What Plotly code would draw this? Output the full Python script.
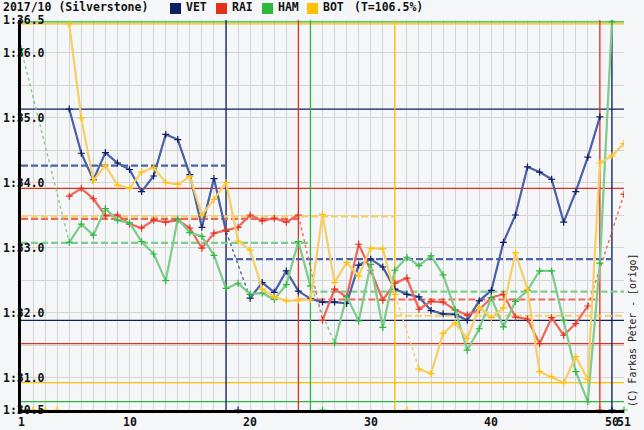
import plotly.graph_objects as go

# ---------------- data (lap times in seconds, 1:30.0 = 90.0) ----------------
laps = list(range(1, 52))
drivers = ["VET", "RAI", "HAM", "BOT"]

vet_times = [None, None, None, None,
             95.13, 94.45, 94.04, 94.46, 94.30, 94.20, 93.86, 94.10, 94.74, 94.66,
             94.12, 93.31, 94.06, 93.25, None,
             92.22, 92.46, 92.31, 92.64, 92.33, 92.21, 92.16, 92.16, 92.14, 92.73,
             92.82, 92.70, 92.36, 92.28, 92.24, 92.03, 91.98, 91.97, 91.88, 92.18,
             92.34, 93.08, 93.50, 94.24, 94.16, 94.05, 93.39, 93.86, 94.39, 95.01,
             None, None]
rai_times = [None, None, None, None,
             93.79, 93.91, 93.75, 93.49, 93.50, 93.36, 93.30, 93.42, 93.39, 93.42,
             93.30, 92.99, 93.22, 93.27, 93.31, 93.50, 93.41, 93.45, 93.39, 93.50,
             None,
             91.88, 92.36, 92.24, 93.05, 92.65, 92.19, 92.45, 92.53, 92.05, 92.17,
             92.16, 92.04, 91.96, 92.04, 92.23, 92.28, 91.93, 91.90, 91.52, 91.92,
             91.65, 91.83, 92.10, None, None, 93.82]
ham_times = [96.06, None, None, None,
             93.08, 93.36, 93.19, 93.60, 93.42, 93.38, 93.09, 92.90, 92.49, 93.44,
             93.23, 93.17, 92.88, 92.37, 92.45, 92.28, 92.30, 92.20, 92.43, 93.09,
             92.41, None,
             91.53, 92.25, 91.87, 92.74, 91.77, 92.65, 92.85, 92.72, 92.87, 92.58,
             92.04, 91.42, 91.75, 92.23, 91.78, 92.17, 92.34, 92.64, 92.64, 91.88,
             91.09, 90.63, 92.76, 96.47, None]
bot_times = [None, None, None, None,
             96.44, 94.99, 94.03, 94.26, 93.96, 93.91, 94.16, 94.23, 94.00, 93.97,
             94.09, 93.50, 93.74, 94.00, 93.10, 92.96, 92.36, 92.24, 92.18, 92.19,
             92.20, 93.51, 92.46, 92.77, 92.56, 92.99, 92.98, 92.28, None,
             91.13, 91.06, 91.68, 91.84, 91.60, 92.08, 91.92, 92.07, 92.92, 92.35,
             91.09, 91.01, 90.92, 91.32, 90.97, 94.30, 94.41, 94.60]

# laps shown only as markers on the bottom edge (off the scale)
vet_off = [19, 50]
rai_off = [49]
ham_off = [26, 51]
bot_off = [1, 2, 3, 4, 33]

# pit-stop laps (vertical lines)
vet_pits = [18, 50]
rai_pits = [24, 49]
ham_pits = [25]
bot_pits = [32]

# stint averages: (start lap, end lap, value)
vet_stints = [(1, 18, 94.26), (18, 50, 92.82)]
rai_stints = [(1, 24, 93.44), (24, 49, 92.20)]
ham_stints = [(1, 25, 93.07), (25, 51, 92.32)]
bot_stints = [(1, 32, 93.48), (32, 51, 91.95)]

x_tickvals = [1, 10, 20, 30, 40, 50, 51]
x_ticktext = ["1", "10", "20", "30", "40", "50", "51"]
y_tickvals = [96.5, 96.0, 95.0, 94.0, 93.0, 92.0, 91.0, 90.5]
y_ticktext = ["1:36.5", "1:36.0", "1:35.0", "1:34.0", "1:33.0", "1:32.0", "1:31.0", "1:30.5"]

title_text = "2017/10 (Silverstone)"
threshold_text = "(T=106.5%)"
credit_text = "(C) Farkas Péter - [origo]"

# ---------------- styling ----------------
base_colors = {"VET": "#0c1f5f", "RAI": "#e3301b", "HAM": "#2db83d", "BOT": "#ffc000"}
line_colors = {"VET": "#4b62a8", "RAI": "#f0675a", "HAM": "#7fcc8c", "BOT": "#f7cf68"}
series = {"VET": vet_times, "RAI": rai_times, "HAM": ham_times, "BOT": bot_times}
offs = {"VET": vet_off, "RAI": rai_off, "HAM": ham_off, "BOT": bot_off}
pits = {"VET": vet_pits, "RAI": rai_pits, "HAM": ham_pits, "BOT": bot_pits}
stints = {"VET": vet_stints, "RAI": rai_stints, "HAM": ham_stints, "BOT": bot_stints}

BG = "#f5f6f8"
FONT = "DejaVu Sans Mono"
X0, X1 = 1, 51
Y0, Y1 = 90.5, 96.5

W, H = 644, 430
ML, MR, MT, MB = 21, 20, 20, 20
PW, PH = W - ML - MR, H - MT - MB


def px(x):
    return (x - ML) / PW


def py(y):
    return (H - MB - y) / PH


fig = go.Figure()

# reference lines: slowest / fastest lap per driver (full width)
for d in drivers:
    vals = [v for v in series[d] if v is not None]
    for v in (max(vals), min(vals)):
        fig.add_trace(go.Scatter(x=[X0, X1], y=[v, v], mode="lines",
                                 line=dict(color=base_colors[d], width=1.3),
                                 hoverinfo="skip", showlegend=False))

# pit lap vertical lines
for d in drivers:
    for p in pits[d]:
        fig.add_trace(go.Scatter(x=[p, p], y=[Y0, Y1], mode="lines",
                                 line=dict(color=base_colors[d], width=1.3),
                                 hoverinfo="skip", showlegend=False))

# stint averages (dashed)
for d in drivers:
    for (a, b, v) in stints[d]:
        fig.add_trace(go.Scatter(x=[a, b], y=[v, v], mode="lines",
                                 line=dict(color=line_colors[d], width=2.2, dash="7px,3px"),
                                 hoverinfo="skip", showlegend=False))

# dotted connectors across missing laps
for d in drivers:
    fig.add_trace(go.Scatter(x=laps, y=series[d], mode="lines", connectgaps=True,
                             line=dict(color=line_colors[d], width=1.4, dash="dot"),
                             hoverinfo="skip", showlegend=False))

# solid lap-time lines with markers
for d in drivers:
    fig.add_trace(go.Scatter(x=laps, y=series[d], mode="lines+markers", connectgaps=False,
                             line=dict(color=line_colors[d], width=2.2),
                             marker=dict(symbol="cross-thin", size=5,
                                         line=dict(color=base_colors[d], width=1.2)),
                             name=d, showlegend=False))

# off-scale markers on the bottom edge
for d in drivers:
    fig.add_trace(go.Scatter(x=offs[d], y=[Y0] * len(offs[d]), mode="markers",
                             marker=dict(symbol="cross-thin", size=5,
                                         line=dict(color=base_colors[d], width=1.2)),
                             cliponaxis=False, hoverinfo="skip", showlegend=False))

annotations = []
shapes = []
label_font = dict(family=FONT, size=11.5, color="#111", weight="bold")

# y tick labels drawn over the axis
for v, t in zip(y_tickvals, y_ticktext):
    annotations.append(dict(x=px(2), xref="paper", y=v, yref="y", text=t,
                            showarrow=False, xanchor="left", yanchor="middle",
                            borderpad=0, font=label_font))

# x tick labels
for v, t in zip(x_tickvals, x_ticktext):
    annotations.append(dict(x=v, xref="x", y=py(422), yref="paper", text=t,
                            showarrow=False, xanchor="center", yanchor="middle",
                            borderpad=0, font=label_font))

# title
annotations.append(dict(x=px(2), xref="paper", y=py(7.5), yref="paper", text=title_text,
                        showarrow=False, xanchor="left", yanchor="middle",
                        borderpad=0, font=label_font))

# legend
leg_x = [170, 216, 262, 307]
for d, lx in zip(drivers, leg_x):
    shapes.append(dict(type="rect", xref="paper", yref="paper",
                       x0=px(lx), x1=px(lx + 11), y0=py(14), y1=py(3),
                       fillcolor=base_colors[d], line=dict(width=0)))
    annotations.append(dict(x=px(lx + 15), xref="paper", y=py(7.5), yref="paper", text=d,
                            showarrow=False, xanchor="left", yanchor="middle",
                            borderpad=0, font=label_font))
annotations.append(dict(x=px(353), xref="paper", y=py(7.5), yref="paper", text=threshold_text,
                        showarrow=False, xanchor="left", yanchor="middle",
                        borderpad=0, font=label_font))

# credit
annotations.append(dict(x=px(632), xref="paper", y=py(331), yref="paper", text=credit_text,
                        showarrow=False, textangle=-90, xanchor="center", yanchor="middle",
                        borderpad=0, font=dict(family=FONT, size=9.8, color="#222")))

fig.update_layout(
    width=W, height=H,
    margin=dict(l=ML, r=MR, t=MT, b=MB, pad=0, autoexpand=False),
    paper_bgcolor=BG, plot_bgcolor=BG,
    showlegend=False,
    annotations=annotations, shapes=shapes,
    xaxis=dict(range=[X0, X1], tickmode="array", tickvals=x_tickvals,
               showticklabels=False, automargin=False,
               showgrid=True, gridcolor="#d4d4d4", gridwidth=1.4,
               minor=dict(dtick=1, tick0=1, showgrid=True, gridcolor="#d4d4d4", gridwidth=1.4),
               zeroline=False, showline=True, linecolor="#000", linewidth=3, ticks=""),
    yaxis=dict(range=[Y0, Y1], tickmode="linear", tick0=90.5, dtick=0.5,
               automargin=False,
               showticklabels=False, showgrid=True, gridcolor="#d4d4d4", gridwidth=1.4,
               zeroline=False, showline=True, linecolor="#000", linewidth=3, ticks=""),
)

fig.write_html(
    "out.html",
    config={"displayModeBar": False},
    post_script="document.body.style.margin='0';document.body.style.overflow='hidden';"
                "document.body.style.background='" + BG + "';",
)
